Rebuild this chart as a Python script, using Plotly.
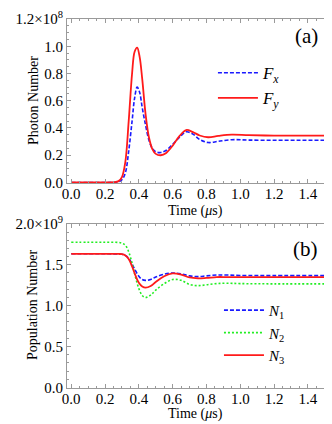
import plotly.graph_objects as go
from plotly import subplots

# time axis in microseconds
t_photon = [0.0, 0.10, 0.20, 0.25, 0.28, 0.30, 0.32, 0.34, 0.36, 0.375, 0.39, 0.405,
            0.42, 0.44, 0.46, 0.48, 0.50, 0.53, 0.56, 0.60, 0.64, 0.68, 0.72, 0.76,
            0.81, 0.87, 0.95, 1.05, 1.20, 1.35, 1.50]
# photon numbers, units of 1e8
fx = [0.0, 0.0, 0.0, 0.001, 0.005, 0.02, 0.07, 0.23, 0.45, 0.62, 0.70, 0.66,
      0.55, 0.42, 0.31, 0.25, 0.225, 0.22, 0.235, 0.28, 0.33, 0.372, 0.355, 0.315,
      0.293, 0.302, 0.314, 0.311, 0.31, 0.31, 0.31]
fy = [0.0, 0.0, 0.0, 0.002, 0.01, 0.04, 0.15, 0.45, 0.80, 0.96, 0.99, 0.92,
      0.76, 0.50, 0.33, 0.245, 0.21, 0.20, 0.215, 0.27, 0.34, 0.385, 0.37, 0.345,
      0.332, 0.342, 0.351, 0.347, 0.344, 0.344, 0.344]

t_pop = [0.0, 0.10, 0.20, 0.28, 0.30, 0.32, 0.34, 0.36, 0.38, 0.40, 0.42, 0.44,
         0.47, 0.50, 0.55, 0.60, 0.65, 0.70, 0.75, 0.80, 0.86, 0.92, 1.00, 1.20, 1.50]
# population numbers, units of 1e9
n1 = [1.635, 1.635, 1.635, 1.633, 1.63, 1.615, 1.58, 1.51, 1.43, 1.36, 1.32, 1.31,
      1.32, 1.35, 1.385, 1.40, 1.39, 1.365, 1.355, 1.365, 1.375, 1.375, 1.37, 1.368, 1.368]
n2 = [1.777, 1.777, 1.777, 1.774, 1.765, 1.74, 1.66, 1.52, 1.35, 1.21, 1.125, 1.10,
      1.13, 1.19, 1.27, 1.32, 1.31, 1.26, 1.245, 1.255, 1.27, 1.275, 1.27, 1.267, 1.267]
n3 = [1.635, 1.635, 1.635, 1.633, 1.63, 1.615, 1.57, 1.48, 1.37, 1.28, 1.235, 1.22,
      1.24, 1.29, 1.36, 1.395, 1.38, 1.345, 1.335, 1.34, 1.35, 1.35, 1.35, 1.35, 1.35]

x_ticks = [0.0, 0.2, 0.4, 0.6, 0.8, 1.0, 1.2, 1.4]
y1_ticks = [0.0, 0.2, 0.4, 0.6, 0.8, 1.0, 1.2]
y1_labels = ["0.0", "0.2", "0.4", "0.6", "0.8", "1.0", "1.2×10<sup>8</sup>"]
y2_ticks = [0.0, 0.5, 1.0, 1.5, 2.0]
y2_labels = ["0.0", "0.5", "1.0", "1.5", "2.0×10<sup>9</sup>"]

SERIF = "Liberation Serif"
FRAME = "#9a9a9a"

fig = subplots.make_subplots(rows=2, cols=1, vertical_spacing=0.111)

fig.add_trace(go.Scatter(x=t_photon, y=fx, name="<i>F<sub>x</sub></i>", mode="lines",
                         line=dict(color="#1a1aff", width=1.6, dash="4px,2px", shape="spline"),
                         legend="legend"), row=1, col=1)
fig.add_trace(go.Scatter(x=t_photon, y=fy, name="<i>F<sub>y</sub></i>", mode="lines",
                         line=dict(color="#ff1a1a", width=1.8, shape="spline"),
                         legend="legend"), row=1, col=1)
fig.add_trace(go.Scatter(x=t_pop, y=n1, name="<i>N</i><sub>1</sub>", mode="lines",
                         line=dict(color="#1a1aff", width=1.6, dash="4px,2px", shape="spline"),
                         legend="legend2"), row=2, col=1)
fig.add_trace(go.Scatter(x=t_pop, y=n2, name="<i>N</i><sub>2</sub>", mode="lines",
                         line=dict(color="#22ee22", width=1.6, dash="2px,2px", shape="spline"),
                         legend="legend2"), row=2, col=1)
fig.add_trace(go.Scatter(x=t_pop, y=n3, name="<i>N</i><sub>3</sub>", mode="lines",
                         line=dict(color="#ff1a1a", width=1.8, shape="spline"),
                         legend="legend2"), row=2, col=1)

axis_common = dict(showgrid=False, zeroline=False, showline=True, linecolor=FRAME,
                   linewidth=1, mirror="allticks", ticks="inside", ticklen=4,
                   tickcolor=FRAME, automargin=False,
                   tickfont=dict(family=SERIF, size=15, color="black"))
fig.update_xaxes(range=[-0.025, 1.525], tickvals=x_ticks,
                 ticktext=[f"{v:.1f}" for v in x_ticks], ticklabelstandoff=-3,
                 minor=dict(ticks="inside", ticklen=2, dtick=0.05, tick0=0, tickcolor=FRAME),
                 **axis_common)
fig.update_yaxes(range=[-0.004, 1.2], tickvals=y1_ticks, ticktext=y1_labels,
                 minor=dict(ticks="inside", ticklen=2, dtick=0.05, tick0=0, tickcolor=FRAME),
                 row=1, col=1, **axis_common)
fig.update_yaxes(range=[-0.008, 2.0], tickvals=y2_ticks, ticktext=y2_labels,
                 minor=dict(ticks="inside", ticklen=2, dtick=0.1, tick0=0, tickcolor=FRAME),
                 row=2, col=1, **axis_common)

# page body adds an 8px offset, so the figure is a bit smaller than the window
title_font = dict(family=SERIF, size=14, color="black")
fig.update_layout(
    width=324, height=416,
    margin=dict(l=59, r=3, t=11, b=36),
    paper_bgcolor="white", plot_bgcolor="white",
    font=dict(family=SERIF, color="black"),
    legend=dict(x=0.557, y=0.902, xanchor="left", yanchor="top", bgcolor="rgba(0,0,0,0)",
                font=dict(family=SERIF, size=17), itemwidth=40, tracegroupgap=0),
    legend2=dict(x=0.58, y=0.255, xanchor="left", yanchor="top", bgcolor="rgba(0,0,0,0)",
                 font=dict(family=SERIF, size=15), itemwidth=40, tracegroupgap=0),
    annotations=[
        dict(text="(a)", x=0.965, y=0.9916, xref="paper", yref="paper", xanchor="right",
             yanchor="top", showarrow=False, font=dict(family=SERIF, size=21)),
        dict(text="(b)", x=0.965, y=0.4146, xref="paper", yref="paper", xanchor="right",
             yanchor="top", showarrow=False, font=dict(family=SERIF, size=21)),
        dict(text="Photon Number", x=-0.13, y=0.78, xref="paper", yref="paper",
             xanchor="center", yanchor="middle", textangle=-90, showarrow=False,
             font=title_font),
        dict(text="Population Number", x=-0.13, y=0.225, xref="paper", yref="paper",
             xanchor="center", yanchor="middle", textangle=-90, showarrow=False,
             font=title_font),
        dict(text="Time (<i>μ</i>s)", x=0.489, y=0.481, xref="paper", yref="paper",
             xanchor="center", yanchor="middle", showarrow=False, font=title_font),
        dict(text="Time (<i>μ</i>s)", x=0.489, y=-0.071, xref="paper", yref="paper",
             xanchor="center", yanchor="middle", showarrow=False, font=title_font),
    ],
)

fig.write_html("out.html")
